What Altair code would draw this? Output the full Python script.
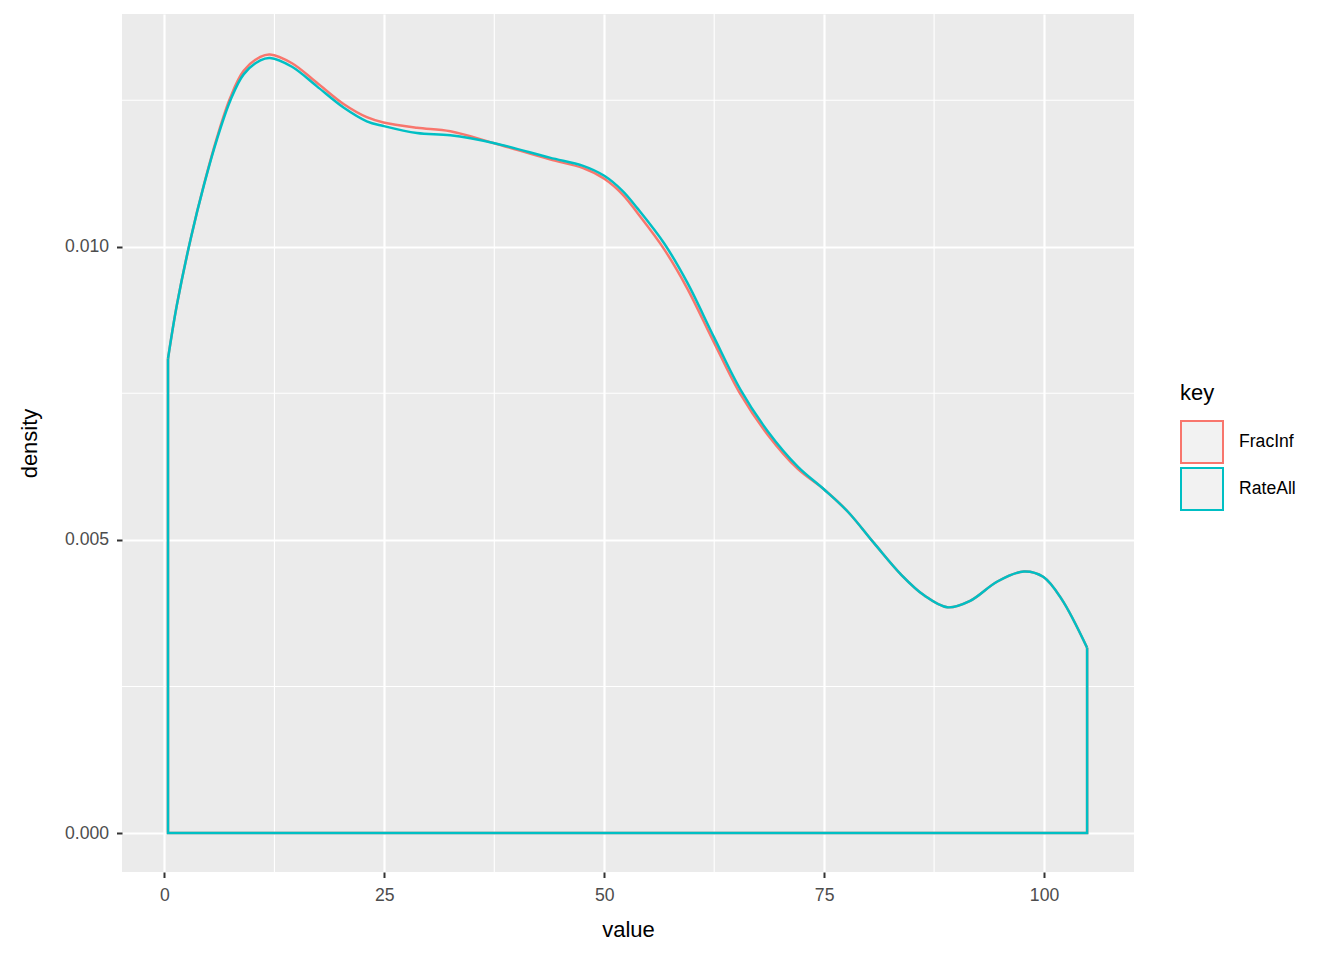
import altair as alt
import pandas as pd

# Data
xs = [0.4, 1.4, 3.0, 4.5, 6.0, 7.5, 9.0, 10.9, 12.0, 14.5, 17.3, 20.4, 23.0, 24.9, 28.7,
      32.5, 37.4, 43.8, 47.6, 50.0, 52.1, 53.8, 56.8, 59.4, 62.5, 65.5, 68.6, 72.0,
      75.0, 77.7, 80.7, 83.8, 86.4, 89.0, 91.6, 94.7, 97.7, 99.9, 102.0, 104.9]

rate_all = [0.00809, 0.00900, 0.01015, 0.01106, 0.01185, 0.01250, 0.01294, 0.01318,
            0.01322, 0.01307, 0.01274, 0.01237, 0.01214, 0.01206, 0.01194, 0.01190,
            0.01177, 0.01152, 0.01138, 0.01121, 0.01095, 0.01065, 0.01006, 0.00940,
            0.00845, 0.00756, 0.00685, 0.00625, 0.00586, 0.00548, 0.00494, 0.00440,
            0.00405, 0.00385, 0.00396, 0.00429, 0.00446, 0.00437, 0.00399, 0.00316]

frac_inf = [0.00809, 0.00900, 0.01015, 0.01107, 0.01188, 0.01255, 0.01300, 0.01324,
            0.01328, 0.01313, 0.01280, 0.01243, 0.01221, 0.01212, 0.01203, 0.01197,
            0.01177, 0.01149, 0.01134, 0.01116, 0.01089, 0.01057, 0.00996, 0.00930,
            0.00836, 0.00748, 0.00679, 0.00621, 0.00586, 0.00548, 0.00494, 0.00440,
            0.00405, 0.00385, 0.00396, 0.00429, 0.00446, 0.00437, 0.00399, 0.00316]

keys = ["FracInf", "RateAll"]
colors = ["#F8766D", "#00BFC4"]

x_major = [0, 25, 50, 75, 100]
x_minor = [12.5, 37.5, 62.5, 87.5]
y_major = [0.0, 0.005, 0.010]
y_minor = [0.0025, 0.0075, 0.0125]

x_domain = [-4.83, 110.23]
y_domain = [-0.000665, 0.01397]

curve_rows = []
edge_rows = []
for key, ys in zip(keys, [frac_inf, rate_all]):
    for i, (x, y) in enumerate(zip(xs, ys)):
        curve_rows.append({"key": key, "value": x, "density": y, "o": i})
    edge_pts = [(xs[-1], ys[-1]), (xs[-1], 0.0), (xs[0], 0.0), (xs[0], ys[0])]
    for i, (x, y) in enumerate(edge_pts):
        edge_rows.append({"key": key, "value": x, "density": y, "o": i})

curves = pd.DataFrame(curve_rows)
edges = pd.DataFrame(edge_rows)

xscale = alt.Scale(domain=x_domain, nice=False, zero=False)
yscale = alt.Scale(domain=y_domain, nice=False, zero=False)
cscale = alt.Scale(domain=keys, range=colors)

W, H = 1012, 858

xaxis = alt.Axis(values=x_major, title="value", grid=True, gridColor="white",
                 gridWidth=2.2, domain=False, tickColor="#333333", tickWidth=2,
                 tickSize=5.5, labelFont="Liberation Sans", labelFontSize=17.6,
                 labelColor="#4D4D4D", labelPadding=9, titleFont="Liberation Sans",
                 titleFontSize=22, titleFontWeight="normal", titleColor="black",
                 titlePadding=15)
yaxis = alt.Axis(values=y_major, format=".3f", title="density", grid=True,
                 gridColor="white", gridWidth=2.2, domain=False, tickColor="#333333",
                 tickWidth=2, tickSize=5.5, labelFont="Liberation Sans",
                 labelFontSize=17.6, labelColor="#4D4D4D", labelPadding=8,
                 titleFont="Liberation Sans", titleFontSize=22,
                 titleFontWeight="normal", titleColor="black", titlePadding=23)

minor_x = alt.Chart(pd.DataFrame({"v": x_minor})).mark_rule(
    color="white", strokeWidth=1.1).encode(x=alt.X("v:Q", scale=xscale, axis=xaxis))
minor_y = alt.Chart(pd.DataFrame({"d": y_minor})).mark_rule(
    color="white", strokeWidth=1.1).encode(y=alt.Y("d:Q", scale=yscale, axis=yaxis))

legend = alt.Legend(title="key", orient="none", legendX=1058, legendY=369,
                    titleFont="Liberation Sans", titleFontSize=22,
                    titleFontWeight="normal", titleColor="black", titlePadding=15,
                    labelFont="Liberation Sans", labelFontSize=17.6,
                    labelColor="black", labelOffset=15, symbolType="square",
                    symbolSize=1764, symbolStrokeWidth=2, symbolFillColor="#F2F2F2",
                    rowPadding=-4)

curve = alt.Chart(curves).mark_line(interpolate="catmull-rom", strokeWidth=2.5).encode(
    x=alt.X("value:Q", scale=xscale, axis=xaxis),
    y=alt.Y("density:Q", scale=yscale, axis=yaxis),
    color=alt.Color("key:N", scale=cscale, legend=legend),
    order="o:Q",
)
edge = alt.Chart(edges).mark_line(strokeWidth=2.5).encode(
    x=alt.X("value:Q", scale=xscale, axis=xaxis),
    y=alt.Y("density:Q", scale=yscale, axis=yaxis),
    color=alt.Color("key:N", scale=cscale, legend=legend),
    order="o:Q",
)

chart = alt.layer(minor_x, minor_y, edge, curve).properties(
    width=W, height=H,
    background="white",
    autosize=alt.AutoSizeParams(type="none"),
    padding={"left": 114, "top": 6, "right": 200, "bottom": 80},
).configure_view(fill="#EBEBEB", stroke=None)

chart.save("out.html", embed_options={"renderer": "svg", "actions": False})
